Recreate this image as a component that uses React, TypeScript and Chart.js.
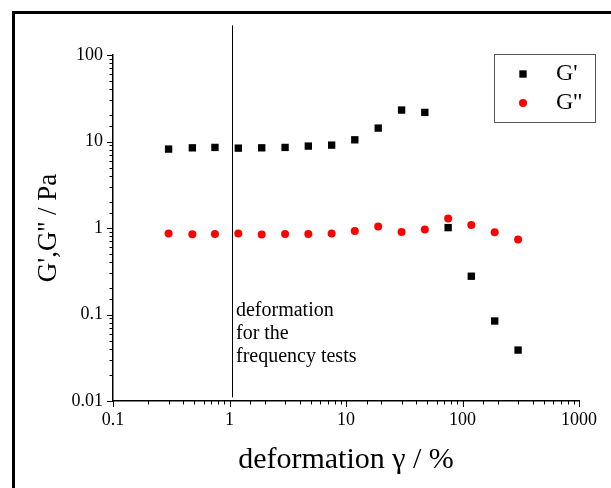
import React, { useEffect, useRef } from 'react';
import { Chart, registerables } from 'chart.js';

Chart.register(...registerables);

// ---- data ----
const deformation = [0.3, 0.48, 0.75, 1.19, 1.89, 3.0, 4.75, 7.53, 11.9, 18.9, 30, 47.5, 75.3, 119, 189, 300];
const gPrime = [8.17, 8.45, 8.54, 8.38, 8.45, 8.54, 8.85, 9.08, 10.46, 14.29, 23.1, 21.7, 1.01, 0.277, 0.0841, 0.0388];
const gDoublePrime = [0.864, 0.848, 0.855, 0.864, 0.841, 0.855, 0.855, 0.864, 0.926, 1.041, 0.901, 0.961, 1.288, 1.086, 0.894, 0.736];
const seriesLabels = ["G'", "G''"];
const xTickLabels = ['0.1', '1', '10', '100', '1000'];
const yTickLabels = ['0.01', '0.1', '1', '10', '100'];
const markerLineX = [1.05, 1.05];
const markerLineY = [0.011, 220];
const annotationLines = ['deformation', 'for the', 'frequency tests'];
const annotationAnchor = [1.05, 0.1];

const FONT = "'Liberation Serif', 'Times New Roman', Times, serif";

function isDecade(v: number) {
  const lg = Math.log10(v);
  return Math.abs(lg - Math.round(lg)) < 1e-6;
}
function labelFor(list: string[], v: number) {
  const f = list.find((l) => Math.abs(parseFloat(l) - v) / v < 1e-6);
  return f ?? '';
}

const decorPlugin = {
  id: 'decor',
  afterDraw(chart: any) {
    const ctx = chart.ctx as CanvasRenderingContext2D;
    const xs = chart.scales.x;
    const ys = chart.scales.y;
    ctx.save();
    // tick marks (major / minor)
    ctx.strokeStyle = '#000';
    ctx.lineWidth = 1;
    ctx.beginPath();
    for (const t of xs.ticks) {
      const px = Math.round(xs.getPixelForValue(t.value)) + 0.5;
      const len = isDecade(t.value) ? 6 : 3.5;
      ctx.moveTo(px, xs.top);
      ctx.lineTo(px, xs.top + len);
    }
    for (const t of ys.ticks) {
      const py = Math.round(ys.getPixelForValue(t.value)) + 0.5;
      const len = isDecade(t.value) ? 6 : 3.5;
      ctx.moveTo(ys.right, py);
      ctx.lineTo(ys.right - len, py);
    }
    ctx.stroke();

    // vertical marker line
    const lx = Math.round(xs.getPixelForValue(markerLineX[0])) + 0.5;
    ctx.beginPath();
    ctx.moveTo(lx, ys.getPixelForValue(markerLineY[0]));
    ctx.lineTo(Math.round(xs.getPixelForValue(markerLineX[1])) + 0.5, ys.getPixelForValue(markerLineY[1]));
    ctx.stroke();

    // annotation
    ctx.fillStyle = '#000';
    ctx.font = `20px ${FONT}`;
    ctx.textAlign = 'left';
    ctx.textBaseline = 'alphabetic';
    const ax = xs.getPixelForValue(annotationAnchor[0]) + 4;
    const ay = ys.getPixelForValue(annotationAnchor[1]) + 1;
    annotationLines.forEach((line, i) => ctx.fillText(line, ax, ay + i * 23));

    // legend
    ctx.strokeStyle = '#555';
    ctx.lineWidth = 1;
    ctx.strokeRect(494.5, 54.5, 101, 68);
    const ds = chart.data.datasets;
    const rowsY = [74, 103];
    ds.forEach((d: any, i: number) => {
      const cx = 523;
      const cy = rowsY[i];
      ctx.fillStyle = d.pointBackgroundColor;
      ctx.beginPath();
      if (d.pointStyle === 'rect') {
        const s = Math.SQRT1_2 * d.pointRadius;
        ctx.rect(cx - s, cy - s, 2 * s, 2 * s);
      } else {
        ctx.arc(cx, cy, d.pointRadius, 0, Math.PI * 2);
      }
      ctx.fill();
      ctx.fillStyle = '#000';
      ctx.font = `24px ${FONT}`;
      ctx.textBaseline = 'middle';
      ctx.fillText(d.label, 556, cy);
    });

    // outer frame
    ctx.strokeStyle = '#000';
    ctx.lineWidth = 3;
    ctx.strokeRect(13.5, 12.5, 700, 600);
    ctx.restore();
  },
};

export default function App() {
  const ref = useRef<HTMLCanvasElement | null>(null);
  useEffect(() => {
    if (!ref.current) return;
    const chart = new Chart(ref.current, {
      type: 'scatter',
      data: {
        datasets: [
          {
            label: seriesLabels[0],
            data: deformation.map((x, i) => ({ x, y: gPrime[i] })),
            pointStyle: 'rect',
            pointRadius: 5.2,
            pointBorderWidth: 0,
            pointBackgroundColor: '#000000',
            borderColor: '#000000',
            showLine: false,
          } as any,
          {
            label: seriesLabels[1],
            data: deformation.map((x, i) => ({ x, y: gDoublePrime[i] })),
            pointStyle: 'circle',
            pointRadius: 4,
            pointBorderWidth: 0,
            pointBackgroundColor: '#ff0000',
            borderColor: '#ff0000',
            showLine: false,
          } as any,
        ],
      },
      options: {
        animation: false,
        responsive: false,
        devicePixelRatio: 1,
        layout: { padding: { top: 55, right: 32, left: 0, bottom: 0 } },
        plugins: { legend: { display: false }, tooltip: { enabled: false } },
        scales: {
          x: {
            type: 'logarithmic',
            position: 'bottom',
            min: 0.1,
            max: 1000,
            afterFit: (s: any) => { s.height = 87; },
            grid: { display: false, drawTicks: false },
            border: { display: true, color: '#000', width: 1.5 },
            ticks: {
              autoSkip: false,
              maxRotation: 0,
              padding: 8,
              color: '#000',
              font: { family: FONT, size: 18 },
              callback: (v: any) => labelFor(xTickLabels, Number(v)),
            },
            title: {
              display: true,
              text: 'deformation γ / %',
              color: '#000',
              font: { family: FONT, size: 30 },
              padding: { top: 0, bottom: 10 },
            },
          },
          y: {
            type: 'logarithmic',
            position: 'left',
            min: 0.01,
            max: 100,
            afterFit: (s: any) => { s.width = 113; },
            grid: { display: false, drawTicks: false },
            border: { display: true, color: '#000', width: 1.5 },
            ticks: {
              autoSkip: false,
              padding: 10,
              color: '#000',
              font: { family: FONT, size: 18 },
              callback: (v: any) => labelFor(yTickLabels, Number(v)),
            },
            title: {
              display: true,
              text: "G',G'' / Pa",
              color: '#000',
              font: { family: FONT, size: 27 },
              padding: { top: 33, bottom: 0 },
            },
          },
        },
      } as any,
      plugins: [decorPlugin],
    });
    return () => chart.destroy();
  }, []);
  return (
    <div style={{ position: 'absolute', left: 0, top: 0, width: 611, height: 488, background: '#fff' }}>
      <canvas ref={ref} width={611} height={488} style={{ display: 'block', width: 611, height: 488 }} />
    </div>
  );
}
